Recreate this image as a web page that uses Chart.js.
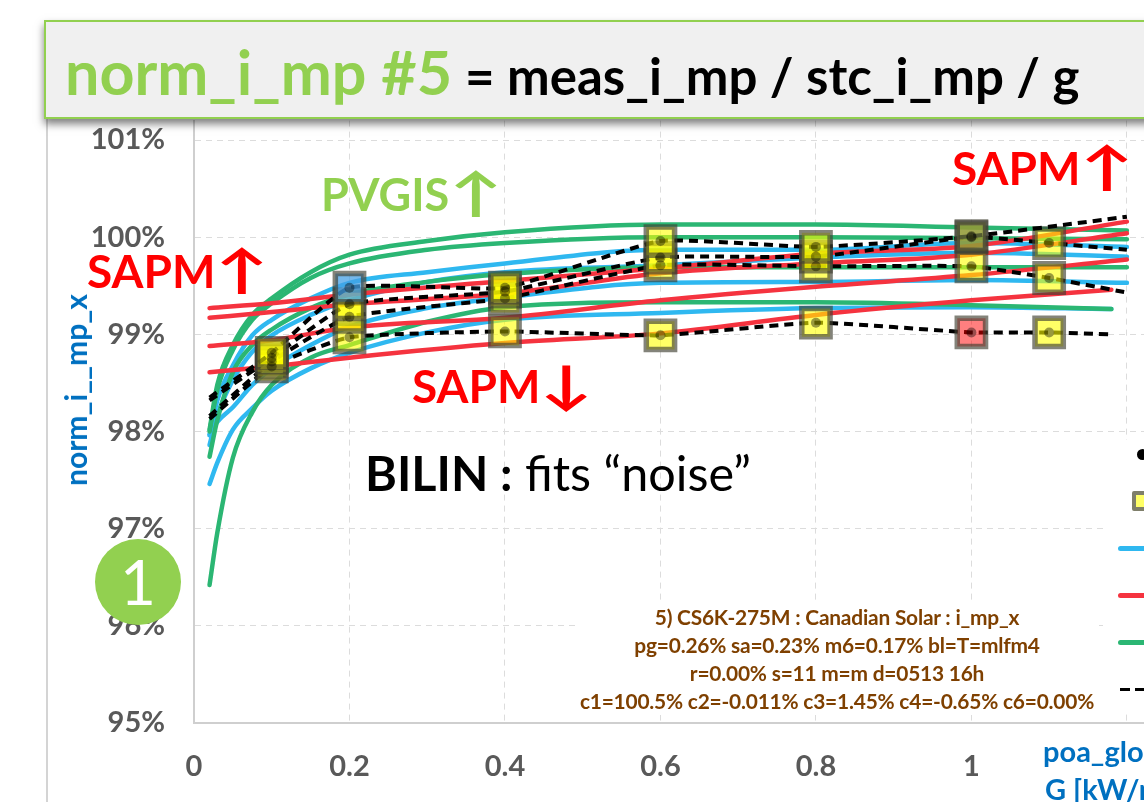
<!DOCTYPE html>
<html>
<head>
<meta charset="utf-8">
<title>norm_i_mp #5</title>
<script src="https://cdn.jsdelivr.net/npm/chart.js@4/dist/chart.umd.min.js"></script>
<style>
  html, body { margin: 0; padding: 0; background: #fff; overflow: hidden; }
  #page { position: relative; width: 1144px; height: 802px; overflow: hidden; font-family: Lato, sans-serif; filter: blur(0.45px); }
  #chart { position: absolute; left: 0; top: 0; }
  .lbl { position: absolute; white-space: nowrap; line-height: 1; transform: translateY(-50%); }
  .mask { position: absolute; background: #fff; }
  .red { color: #ff0000; font-weight: 700; font-size: 46px; }
  .arrow { display: inline-block; font-size: 52px; line-height: 0; margin: 0 6px 0 7px; transform: scaleX(1.35); }
  #titlebox { position: absolute; left: 44px; top: 20px; width: 1120px; height: 95px; background: #f0f0f0; border: 2px solid #92d050; box-shadow: 0 5px 8px rgba(0,0,0,.5); }
  .brown { color: #7f4000; font-weight: 700; font-size: 20.9px; text-align: center; width: 560px; left: 557px; letter-spacing: -0.2px; }
  .key { position: absolute; height: 5px; left: 1118px; width: 30px; border-radius: 3px; }
</style>
</head>
<body>
<div id="page">
  <canvas id="chart" width="1144" height="802"></canvas>

  <!-- white boxes behind the note and the legend -->
  <div class="mask" style="left:575px;top:601px;width:524px;height:114px"></div>
  <div class="mask" style="left:1108px;top:440px;width:40px;height:273px"></div>

  <div style="position:absolute;left:46px;top:118px;width:2px;height:690px;background:#d4d4d4"></div>
  <div id="titlebox"></div>
  <div class="lbl" style="left:65px;top:71px;font-size:61px;font-weight:700;color:#92d050">norm_i_mp #5</div>
  <div class="lbl" style="left:465px;top:75px;font-size:51px;font-weight:700;color:#000">= meas_i_mp / stc_i_mp / g</div>

  <div class="lbl" style="left:321px;top:194px;font-size:45px;font-weight:700;color:#92d050">PVGIS<span class="arrow">↑</span></div>
  <div class="lbl red" style="left:87px;top:271px">SAPM<span class="arrow">↑</span></div>
  <div class="lbl red" style="left:952px;top:168px">SAPM<span class="arrow">↑</span></div>
  <div class="lbl red" style="left:412px;top:386px">SAPM<span class="arrow">↓</span></div>
  <div class="lbl" style="left:365px;top:472px;font-size:48.5px;color:#000"><b>BILIN :</b> fits “noise”</div>

  <div class="lbl brown" style="top:617px">5) CS6K-275M : Canadian Solar : i_mp_x</div>
  <div class="lbl brown" style="top:645px">pg=0.26% sa=0.23% m6=0.17% bl=T=mlfm4</div>
  <div class="lbl brown" style="top:673px">r=0.00% s=11 m=m d=0513 16h</div>
  <div class="lbl brown" style="top:701px">c1=100.5% c2=-0.011% c3=1.45% c4=-0.65% c6=0.00%</div>

  <div class="lbl" style="left:75px;top:390px;font-size:30px;font-weight:700;color:#0070c0;transform:translate(-50%,-50%) rotate(-90deg)">norm_i__mp_x</div>
  <div class="lbl" style="left:1043px;top:750px;font-size:29px;font-weight:700;color:#0070c0">poa_global</div>
  <div class="lbl" style="left:1045px;top:788px;font-size:29px;font-weight:700;color:#0070c0">G [kW/m²]</div>

  <div style="position:absolute;left:95px;top:539px;width:86px;height:86px;border-radius:50%;background:#92d050"></div>
  <div class="lbl" style="left:138px;top:581px;font-size:62px;color:#fff;transform:translate(-50%,-50%)">1</div>

  <!-- legend keys, the labels are cut off by the page edge -->
  <div style="position:absolute;left:1137px;top:449px;width:11px;height:11px;border-radius:50%;background:#000"></div>
  <div style="position:absolute;left:1132px;top:491px;width:20px;height:12px;padding:0;border:4px solid #7f7f6a;border-radius:2px;background:#ffff66"></div>
  <div class="key" style="top:546px;background:#2fb8f0"></div>
  <div class="key" style="top:593px;background:#f5333f"></div>
  <div class="key" style="top:640px;background:#2bb673"></div>
  <div style="position:absolute;left:1120px;top:688px;width:10px;height:3px;background:#000"></div>
  <div style="position:absolute;left:1135px;top:688px;width:10px;height:3px;background:#000"></div>
</div>

<script>
  //tick labels
  var xTicks = [0, 0.2, 0.4, 0.6, 0.8, 1, 1.2];
  var yTicks = [95, 96, 97, 98, 99, 100, 101];

  //model curves : x positions
  var curveX = [0.02, 0.03, 0.05, 0.075, 0.1, 0.15, 0.2, 0.3, 0.4, 0.6, 0.8, 1.0, 1.2];
  var curveXShort = [0.02, 0.03, 0.05, 0.075, 0.1, 0.15, 0.2, 0.3, 0.4, 0.6, 0.8, 1.0, 1.18];
  var sapmX = [0.02, 0.1, 0.2, 0.4, 0.6, 0.8, 1.0, 1.2];
  var sapmXShort = [0.02, 0.1, 0.2, 0.4, 0.6, 0.8, 1.0, 1.18];

  //green : PVGIS
  var pvgis1 = [98.02, 98.48, 98.89, 99.20, 99.37, 99.64, 99.82, 99.96, 100.05, 100.13, 100.13, 100.10, 100.07];
  var pvgis2 = [98.00, 98.43, 98.84, 99.15, 99.32, 99.58, 99.73, 99.87, 99.94, 100.00, 100.00, 99.99, 99.98];
  var pvgis3 = [97.74, 98.12, 98.61, 98.89, 99.05, 99.27, 99.41, 99.54, 99.62, 99.69, 99.69, 99.69, 99.69];
  var pvgis4 = [96.42, 96.96, 97.73, 98.20, 98.48, 98.76, 98.89, 99.13, 99.28, 99.33, 99.33, 99.30, 99.26];

  //blue
  var blue1 = [97.96, 98.32, 98.68, 98.99, 99.15, 99.37, 99.53, 99.64, 99.73, 99.87, 99.87, 99.94, 99.90];
  var blue2 = [97.86, 98.17, 98.53, 98.82, 98.99, 99.20, 99.35, 99.54, 99.64, 99.71, 99.79, 99.84, 99.80];
  var blue3 = [97.97, 98.10, 98.25, 98.48, 98.65, 98.89, 99.08, 99.27, 99.38, 99.53, 99.54, 99.56, 99.53];
  var blue4 = [97.46, 97.68, 98.02, 98.24, 98.42, 98.65, 98.81, 99.02, 99.15, 99.22, 99.27, 99.28, 99.26];

  //red : SAPM
  var sapm1 = [99.27, 99.32, 99.41, 99.55, 99.68, 99.83, 99.91, 100.16];
  var sapm2 = [99.17, 99.23, 99.31, 99.42, 99.63, 99.73, 99.82, 100.04];
  var sapm3 = [98.88, 98.94, 99.07, 99.17, 99.35, 99.49, 99.61, 99.77];
  var sapm4 = [98.61, 98.67, 98.76, 98.91, 99.01, 99.20, 99.35, 99.46];

  //black dashed : BILIN, the first and last point of each carry no marker
  var bilinAX = [0.02, 0.1, 0.2, 0.4, 0.6, 0.8, 1.0, 1.2];
  var bilinA = [98.35, 98.81, 99.48, 99.48, 99.96, 99.90, 100.01, 100.21];
  var bilinX = [0.02, 0.1, 0.2, 0.4, 0.6, 0.8, 1.0, 1.1, 1.2];
  var bilinB = [98.32, 98.76, 99.31, 99.44, 99.79, 99.80, 100.00, 99.94, 99.87];
  var bilinC = [98.16, 98.72, 99.18, 99.37, 99.71, 99.70, 99.70, 99.58, 99.43];
  var bilinDX = [0.02, 0.1, 0.2, 0.4, 0.6, 0.8, 1.0, 1.1, 1.18];
  var bilinD = [98.13, 98.67, 98.97, 99.03, 98.99, 99.12, 99.02, 99.02, 99.00];

  var BLUE = '#2fb8f0', RED = '#f5333f', GREEN = '#2bb673';
  var YELLOW_FILL = 'rgba(255,255,0,0.6)';

  function pairs(xs, ys) {
      return xs.map(function(x, i) { return { x: x, y: ys[i] }; });
  }

  function curve(xs, ys, color, order) {
      return {
          data: pairs(xs, ys),
          borderColor: color,
          borderWidth: 4.5,
          pointRadius: 0,
          fill: false,
          cubicInterpolationMode: 'monotone',
          borderCapStyle: 'round',
          order: order
      };
  }

  function isEnd(ctx, xs) {
      return ctx.dataIndex === 0 || ctx.dataIndex === xs.length - 1;
  }

  //dashed line with the yellow squares
  function squares(xs, ys, tints, order) {
      return {
          data: pairs(xs, ys),
          borderColor: '#000',
          borderWidth: 4,
          borderDash: [9, 6],
          tension: 0.15,
          fill: false,
          pointStyle: 'rect',
          pointRadius: function(ctx) { return isEnd(ctx, xs) ? 0 : 20; },
          pointBorderWidth: 5.5,
          pointBorderColor: 'rgba(64,64,50,0.65)',
          pointBackgroundColor: function(ctx) { return tints[ctx.dataIndex] || YELLOW_FILL; },
          order: order
      };
  }

  //small dot on top of each square
  function dots(xs, ys, order) {
      return {
          data: pairs(xs, ys),
          showLine: false,
          pointStyle: 'circle',
          pointRadius: function(ctx) { return isEnd(ctx, xs) ? 0 : 5; },
          pointBorderWidth: 0,
          pointBackgroundColor: 'rgba(0,0,0,0.4)',
          order: order
      };
  }

  var datasets = [
      curve(curveX, blue1, BLUE, 30),
      curve(curveX, blue2, BLUE, 30),
      curve(curveX, blue3, BLUE, 30),
      curve(curveXShort, blue4, BLUE, 30),
      curve(sapmX, sapm1, RED, 20),
      curve(sapmX, sapm2, RED, 20),
      curve(sapmX, sapm3, RED, 20),
      curve(sapmXShort, sapm4, RED, 20),
      curve(curveX, pvgis1, GREEN, 25),
      curve(curveX, pvgis2, GREEN, 25),
      curve(curveX, pvgis3, GREEN, 25),
      curve(curveXShort, pvgis4, GREEN, 25),
      squares(bilinDX, bilinD, { 6: 'rgba(255,0,0,0.5)' }, 10),
      squares(bilinX, bilinC, {}, 9),
      squares(bilinX, bilinB, {}, 8),
      squares(bilinAX, bilinA, { 2: 'rgba(70,160,230,0.75)', 6: 'rgba(120,130,70,0.7)' }, 7),
      dots(bilinDX, bilinD, 1),
      dots(bilinX, bilinC, 1),
      dots(bilinX, bilinB, 1),
      dots(bilinAX, bilinA, 1)
  ];

  var tickFont = { family: 'Lato', size: 29, weight: 'bold' };

  new Chart(document.getElementById('chart'), {
      type: 'line',
      data: { datasets: datasets },
      options: {
          responsive: false,
          animation: false,
          layout: { padding: { top: 120.6, right: 0, bottom: 0, left: 0 } },
          plugins: { legend: { display: false }, tooltip: { enabled: false } },
          scales: {
              x: {
                  type: 'linear',
                  min: 0,
                  max: 1.222,
                  afterBuildTicks: function(axis) {
                      axis.ticks = xTicks.map(function(v) { return { value: v }; });
                  },
                  afterFit: function(axis) {
                      axis.height = 79;
                      axis.paddingLeft = 0;
                      axis.paddingRight = 0;
                  },
                  grid: { color: '#dcdcdc', lineWidth: 1, drawTicks: false },
                  border: { color: '#cfcfcf', width: 2, dash: [6, 5] },
                  ticks: {
                      padding: 26,
                      color: '#595959',
                      font: tickFont,
                      maxRotation: 0,
                      autoSkip: false,
                      callback: function(v) { return v === 1.2 ? '' : String(v); }
                  }
              },
              y: {
                  min: 95,
                  max: 101.2,
                  afterBuildTicks: function(axis) {
                      axis.ticks = yTicks.map(function(v) { return { value: v }; });
                  },
                  afterFit: function(axis) { axis.width = 194; },
                  grid: { color: '#dcdcdc', lineWidth: 1, drawTicks: false },
                  border: { color: '#cfcfcf', width: 2, dash: [6, 5] },
                  ticks: {
                      padding: 29,
                      color: '#595959',
                      font: tickFont,
                      autoSkip: false,
                      callback: function(v) { return v + '%'; }
                  }
              }
          }
      }
  });
</script>
</body>
</html>
